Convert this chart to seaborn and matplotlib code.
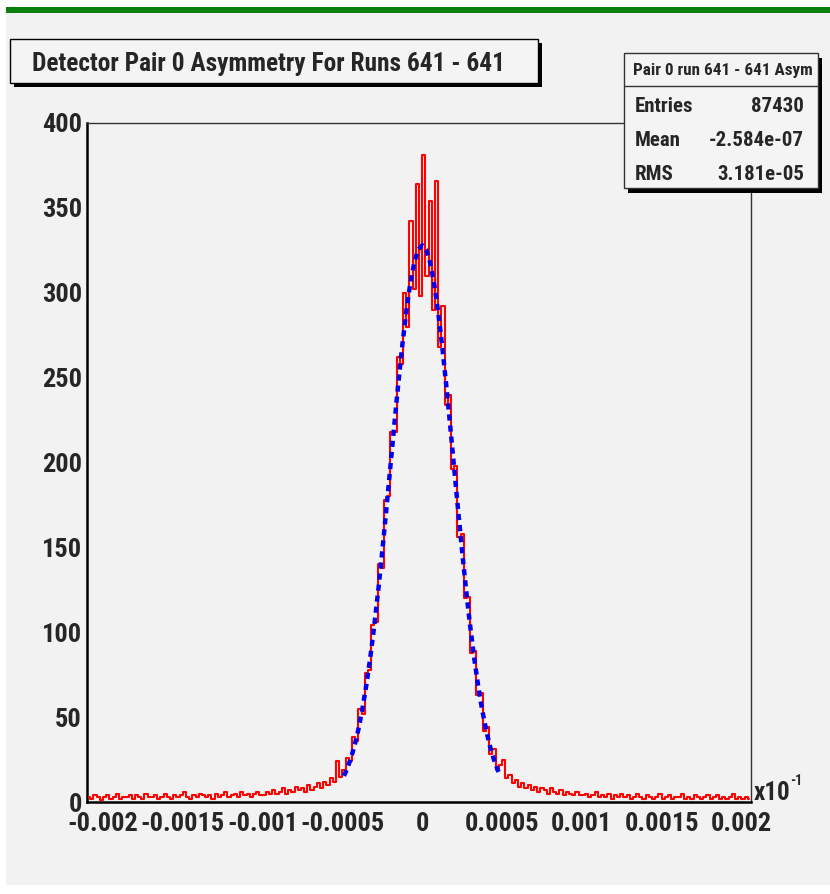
import numpy as np
import pandas as pd
import matplotlib
matplotlib.use("Agg")
import matplotlib.pyplot as plt
from matplotlib.patches import Rectangle
from matplotlib.lines import Line2D
from matplotlib.ticker import FixedLocator, FixedFormatter, MultipleLocator
import seaborn as sns

# ---------------- data ----------------
title_text = "Detector Pair 0 Asymmetry For Runs 641 - 641"
stats_title = "Pair 0 run 641 - 641 Asym"
stats_names = ["Entries", "Mean", "RMS"]
stats_values = ["87430", "-2.584e-07", "3.181e-05"]

x_ticks = [-0.002, -0.0015, -0.001, -0.0005, 0.0, 0.0005, 0.001, 0.0015, 0.002]
x_tick_labels = ["-0.002", "-0.0015", "-0.001", "-0.0005", "0",
                 "0.0005", "0.001", "0.0015", "0.002"]
y_ticks = [0, 50, 100, 150, 200, 250, 300, 350, 400]
y_tick_labels = ["0", "50", "100", "150", "200", "250", "300", "350", "400"]
axis_multiplier = "x10"
axis_exponent = "-1"

x_range = (-0.0021, 0.00206)
y_range = (0, 400)

bin_start = -0.0021
bin_width = 0.00002

counts_left_tail = [3, 2, 4, 3, 1, 3, 4, 2, 3, 5, 2, 3, 3, 4, 2, 4, 3, 2, 5, 3,
                    3, 4, 2, 3, 5, 3, 2, 4, 3, 4, 6, 3, 2, 4, 3, 5, 4, 3, 4, 2,
                    5, 3, 4, 6, 3, 4, 5, 3, 6, 4, 5, 3, 5, 6, 4]
counts_left_shoulder = [4, 6, 5, 7, 5, 6, 8, 5, 7, 6, 9, 7, 8, 6, 10, 7, 9, 11, 8,
                        12, 10, 14, 12, 24, 15]
counts_core = [19, 26, 24, 38, 36, 55, 52, 76, 78, 104, 106, 140, 138, 178, 180,
               218, 218, 262, 258, 300, 280, 342, 302, 364, 298,
               381, 310, 354, 290, 366, 268, 292, 234, 240, 196, 198, 156, 158,
               120, 121, 88, 89, 63, 64, 42, 44, 28, 31, 19, 22]
counts_right_shoulder = [25, 14, 16, 11, 13, 9, 11, 8, 10, 7, 9, 6, 8, 7, 5, 8, 6,
                         5, 7, 4, 6, 5, 4, 6, 4]
counts_right_tail = [4, 5, 3, 4, 6, 3, 4, 3, 5, 2, 4, 3, 5, 3, 4, 2, 3, 5, 3, 2,
                     4, 3, 2, 3, 5, 2, 3, 4, 2, 3, 3, 5, 2, 3, 2, 4, 3, 2, 3, 4,
                     2, 3, 4, 2, 3, 2, 3, 5, 2, 3, 2, 3, 2]

fit_x = [-0.00049, -0.000475, -0.00045, -0.000425, -0.0004, -0.000375, -0.00035,
         -0.000325, -0.0003, -0.000275, -0.00025, -0.000225, -0.0002, -0.000175,
         -0.00015, -0.000125, -0.0001, -0.000075, -0.00005, -0.000025, 0.0,
         0.000025, 0.00005, 0.000075, 0.0001, 0.000125, 0.00015, 0.000175, 0.0002,
         0.000225, 0.00025, 0.000275, 0.0003, 0.000325, 0.00035, 0.000375, 0.0004,
         0.000425, 0.00045, 0.000475, 0.00049]
fit_y = [15.4, 18.5, 24.8, 32.8, 42.6, 54.6, 68.8, 85.3, 104.1, 125.0, 147.8,
         172.0, 196.9, 222.0, 246.2, 268.7, 288.7, 305.3, 317.7, 325.4, 328.0,
         325.4, 317.7, 305.3, 288.7, 268.7, 246.2, 222.0, 196.9, 172.0, 147.8,
         125.0, 104.1, 85.3, 68.8, 54.6, 42.6, 32.8, 24.8, 18.5, 15.4]

counts = (counts_left_tail + counts_left_shoulder + counts_core
          + counts_right_shoulder + counts_right_tail)
centers = bin_start + bin_width * (np.arange(len(counts)) + 0.5)
hist_df = pd.DataFrame({"asym": centers, "count": counts})
fit_df = pd.DataFrame({"asym": fit_x, "fit": fit_y})

# ---------------- style ----------------
sns.set_style("white")
FONT = ["Roboto Condensed", "Archivo Narrow", "Liberation Sans Narrow",
        "Liberation Sans", "DejaVu Sans"]
plt.rcParams["font.family"] = FONT
plt.rcParams["font.weight"] = "bold"

W, H = 830, 894
fig = plt.figure(figsize=(W / 100, H / 100), dpi=100, facecolor="white")


def fx(px):
    return px / W


def fy(py):
    return 1 - py / H


PANEL = "#f2f2f2"
# background panel and green bar
fig.add_artist(Rectangle((fx(6), fy(885)), fx(W - 6), (885 - 13) / H,
                         transform=fig.transFigure, facecolor=PANEL,
                         edgecolor="none", zorder=-10))
fig.add_artist(Rectangle((fx(6), fy(13)), fx(W - 6), 6 / H,
                         transform=fig.transFigure, facecolor="#0a7f0a",
                         edgecolor="none", zorder=-9))

ax = fig.add_axes([fx(87), fy(802), (751 - 87) / W, (802 - 123) / H])
ax.set_facecolor(PANEL)

sns.lineplot(data=hist_df, x="asym", y="count", ax=ax, color="#ff0000",
             linewidth=1.5, drawstyle="steps-mid", zorder=3)
sns.lineplot(data=fit_df, x="asym", y="fit", ax=ax, color="#0000ee",
             linewidth=3.2, linestyle=(0, (1.4, 1.1)), zorder=4)

ax.set_xlim(*x_range)
ax.set_ylim(*y_range)
ax.set_xlabel("")
ax.set_ylabel("")

ax.xaxis.set_major_locator(FixedLocator(x_ticks))
ax.xaxis.set_major_formatter(FixedFormatter(x_tick_labels))
ax.xaxis.set_minor_locator(MultipleLocator(0.0001))
ax.yaxis.set_major_locator(FixedLocator(y_ticks))
ax.yaxis.set_major_formatter(FixedFormatter(y_tick_labels))
ax.yaxis.set_minor_locator(MultipleLocator(10))

ax.tick_params(axis="both", which="major", direction="in", length=14.4,
               width=1.0, color="#222222", labelsize=19, top=False, right=False)
ax.tick_params(axis="y", which="major", pad=3.6)
ax.tick_params(axis="x", which="major", pad=7.2)
ax.tick_params(axis="both", which="minor", direction="in", length=7.2,
               width=1.0, color="#222222", top=False, right=False)
for lab in ax.get_xticklabels() + ax.get_yticklabels():
    lab.set_fontweight("bold")
    lab.set_family(FONT)

for side in ["left", "bottom"]:
    ax.spines[side].set_linewidth(1.8)
    ax.spines[side].set_color("black")
for side in ["top", "right"]:
    ax.spines[side].set_linewidth(1.0)
    ax.spines[side].set_color("#333333")
    ax.spines[side].set_visible(True)

# x10^-1 multiplier
fig.text(fx(754), fy(800), axis_multiplier, fontsize=18, fontweight="bold",
         family=FONT, ha="left", va="baseline")
fig.text(fx(790), fy(785), axis_exponent, fontsize=10, fontweight="bold",
         family=FONT, ha="left", va="baseline")

# title box
fig.add_artist(Rectangle((fx(14), fy(87)), (538 - 10) / W, (83 - 39) / H,
                         transform=fig.transFigure, facecolor="black",
                         edgecolor="none", zorder=5))
fig.add_artist(Rectangle((fx(10), fy(83)), (538 - 10) / W, (83 - 39) / H,
                         transform=fig.transFigure, facecolor="#f4f4f4",
                         edgecolor="black", linewidth=1.0, zorder=6))
fig.text(fx(32), fy(71), title_text, fontsize=18.3, fontweight="bold",
         family=FONT, ha="left", va="baseline", zorder=7)

# stats box
fig.add_artist(Rectangle((fx(628), fy(193)), (818 - 624) / W, (188 - 53) / H,
                         transform=fig.transFigure, facecolor="black",
                         edgecolor="none", zorder=5))
fig.add_artist(Rectangle((fx(624), fy(188)), (818 - 624) / W, (188 - 53) / H,
                         transform=fig.transFigure, facecolor="#f4f4f4",
                         edgecolor="#333333", linewidth=1.0, zorder=6))
fig.add_artist(Line2D([fx(624), fx(818)], [fy(86), fy(86)],
                      transform=fig.transFigure, color="#333333",
                      linewidth=1.0, zorder=7))
fig.text(fx(723), fy(75), stats_title, fontsize=12.3, fontweight="bold",
         family=FONT, ha="center", va="baseline", zorder=8)
row_baselines = [111.5, 146.5, 180]
for name, val, yb in zip(stats_names, stats_values, row_baselines):
    fig.text(fx(635), fy(yb), name, fontsize=15, fontweight="bold",
             family=FONT, ha="left", va="baseline", zorder=8)
    fig.text(fx(804), fy(yb), val, fontsize=15, fontweight="bold",
             family=FONT, ha="right", va="baseline", zorder=8)

fig.savefig("out.png", dpi=100, facecolor="white")
